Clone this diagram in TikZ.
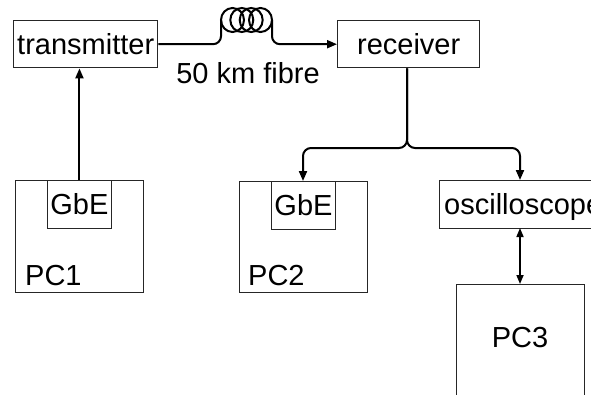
\documentclass[tikz,border=0pt]{standalone}
\usepackage{fontspec}
\setmainfont{Liberation Sans}
\usetikzlibrary{arrows.meta}
\begin{document}
\begin{tikzpicture}[x=1pt,y=-1pt,
  every node/.style={font=\fontsize{29}{32}\selectfont},
  box/.style={draw=black!85,line width=1.4pt,inner sep=0pt,anchor=north west},
  inbox/.style={draw=black!85,line width=0.9pt,inner sep=0pt,anchor=north west,minimum width=64pt,minimum height=48pt},
  conn/.style={line width=2pt,rounded corners=8pt},
  tip/.style={-{Triangle[length=10pt,width=8pt]}},
  lbl/.style={inner sep=0pt,anchor=base west}
]
\useasboundingbox (0,0) rectangle (591,394);
\clip (0,0) rectangle (591,394);
% top row
\node[box,minimum width=144pt,minimum height=47pt] (tx) at (13,20) {};
\node at (tx.center) {transmitter};
\node[box,minimum width=142pt,minimum height=47pt] (rx) at (337,20) {};
\node at (rx.center) {receiver};
% fibre coil
\foreach \cx in {232.5,241.8,251.2,260.5}
  \draw[line width=2pt] (\cx,20) ellipse [x radius=11.5pt,y radius=12pt];
\coordinate (cl) at (221,20);
\coordinate (cr) at (272,20);
\draw[conn] (tx.east) -- (cl |- tx.east) -- (cl);
\draw[conn,tip] (cr) -- (cr |- rx.west) -- (rx.west);
\node[inner sep=0pt] (fl) at (248,73) {50 km fibre};
% PCs
\node[box,minimum width=128pt,minimum height=112pt] (pc1) at (15,180) {};
\node[inbox] (g1) at (47,180) {};
\node at (g1.center) {GbE};
\node[lbl] (l1) at (25,285) {PC1};
\node[box,minimum width=128pt,minimum height=111pt] (pc2) at (239,181) {};
\node[inbox] (g2) at (271,181) {};
\node at (g2.center) {GbE};
\node[lbl] (l2) at (248,285) {PC2};
\node[box,minimum width=170pt,minimum height=48pt] (osc) at (439,180) {};
\node[lbl] (lo) at (444,214) {oscilloscope};
\node[box,minimum width=128pt,minimum height=130pt] (pc3) at (456,284) {};
\node (l3) at (520,337.5) {PC3};
% connectors
\draw[line width=2pt,tip] (g1.north) -- (g1.north |- tx.south);
\coordinate (split) at (407,148);
\draw[conn,tip] (rx.south -| split) -- (split) -- (303,148) -- (303,181);
\draw[conn,tip] (rx.south -| split) -- (split) -- (520,148) -- (520,180);
\draw[line width=1.6pt,{Triangle[length=9pt,width=7pt]}-{Triangle[length=9pt,width=7pt]}] (520,228) -- (520,284);
\end{tikzpicture}
\end{document}
